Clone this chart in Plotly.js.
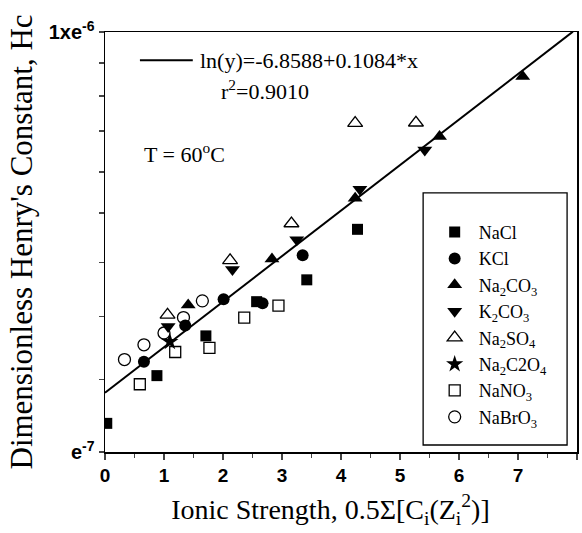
<!DOCTYPE html>
<html>
<head>
<meta charset="utf-8">
<script src="https://cdn.plot.ly/plotly-3.0.1.min.js"></script>
<style>html,body{margin:0;padding:0;background:#fff;}#chart{width:582px;height:533px;}</style>
</head>
<body>
<div id="chart"></div>
<script>
// Data (x = ionic strength, y = Henry's constant)
const naclX = [0.03, 0.88, 1.71, 2.57, 3.42, 4.28];
const naclY = [1.17e-7, 1.52e-7, 1.89e-7, 2.28e-7, 2.57e-7, 3.39e-7];
const kclX = [0.66, 1.36, 2.01, 2.67, 3.35];
const kclY = [1.64e-7, 2.00e-7, 2.31e-7, 2.26e-7, 2.94e-7];
const na2co3X = [1.41, 2.83, 4.24, 5.67, 7.08];
const na2co3Y = [2.24e-7, 2.88e-7, 4.02e-7, 5.64e-7, 7.83e-7];
const k2co3X = [1.07, 2.16, 3.25, 4.32, 5.42];
const k2co3Y = [1.99e-7, 2.72e-7, 3.20e-7, 4.22e-7, 5.24e-7];
const na2so4X = [1.06, 2.12, 3.16, 4.24, 5.27];
const na2so4Y = [2.12e-7, 2.86e-7, 3.50e-7, 6.07e-7, 6.08e-7];
const na2c2o4X = [1.10];
const na2c2o4Y = [1.83e-7];
const nano3X = [0.59, 1.19, 1.77, 2.36, 2.94];
const nano3Y = [1.45e-7, 1.73e-7, 1.77e-7, 2.09e-7, 2.23e-7];
const nabro3X = [0.33, 0.66, 1.00, 1.33, 1.65];
const nabro3Y = [1.66e-7, 1.80e-7, 1.92e-7, 2.09e-7, 2.29e-7];

// Fit line as printed on the chart: log(y) = -6.8588 + 0.1084*x
const fitIntercept = -6.8588;
const fitSlope = 0.1084;
const fitX = [0, 7.93];
const fitLabel = 'ln(y)=-6.8588+0.1084*x';
const r2Label = 'r<sup>2</sup>=0.9010';
const tempLabel = 'T = 60<sup>o</sup>C';

// Axis ticks
const xTickVals = [0, 1, 2, 3, 4, 5, 6, 7, 8];
const yTickVals = [1e-7, 1.49e-7, 2.10e-7, 2.83e-7, 3.71e-7, 4.64e-7, 5.81e-7, 7.05e-7, 8.44e-7, 1e-6];
const yTickText = ['e<sup>-7</sup>', '', '', '', '', '', '', '', '', '1xe<sup>-6</sup>'];

const serif = 'Liberation Serif, Times New Roman, serif';
const sans = 'Liberation Sans, Arial, sans-serif';

function series(name, x, y, symbol, size) {
  const open = symbol.indexOf('open') >= 0;
  return {
    type: 'scatter', mode: 'markers', name: name, x: x, y: y,
    marker: {symbol: symbol, size: size, color: '#000',
             line: {color: '#000', width: open ? 1.3 : 0}}
  };
}

const traces = [
  {
    type: 'scatter', mode: 'lines', name: fitLabel, showlegend: false,
    x: fitX, y: fitX.map(v => Math.pow(10, fitIntercept + fitSlope * v)),
    line: {color: '#000', width: 2}
  },
  series('NaCl', naclX, naclY, 'square', 11),
  series('KCl', kclX, kclY, 'circle', 12),
  series('Na<sub>2</sub>CO<sub>3</sub>', na2co3X, na2co3Y, 'triangle-up', 13),
  series('K<sub>2</sub>CO<sub>3</sub>', k2co3X, k2co3Y, 'triangle-down', 13),
  series('Na<sub>2</sub>SO<sub>4</sub>', na2so4X, na2so4Y, 'triangle-up-open', 13),
  series('Na<sub>2</sub>C2O<sub>4</sub>', na2c2o4X, na2c2o4Y, 'star', 13),
  series('NaNO<sub>3</sub>', nano3X, nano3Y, 'square-open', 11),
  series('NaBrO<sub>3</sub>', nabro3X, nabro3Y, 'circle-open', 12)
];

const layout = {
  width: 582, height: 533,
  margin: {l: 105, r: 5, t: 32, b: 81},
  paper_bgcolor: '#fff', plot_bgcolor: '#fff',
  showlegend: true,
  xaxis: {
    range: [0, 8], tickvals: xTickVals, ticks: 'outside', ticklen: 6, tickwidth: 1.5,
    minor: {dtick: 0.5, ticks: 'outside', ticklen: 4, tickwidth: 1.5},
    showgrid: false, zeroline: false, showline: true, linecolor: '#000', linewidth: 1.5, mirror: true,
    tickfont: {family: sans, size: 19, color: '#000', weight: 'bold'},
    title: {text: 'Ionic Strength, 0.5Σ[C<sub>i</sub>(Z<sub>i</sub><sup>2</sup>)]&nbsp;&nbsp;&nbsp;',
            font: {family: serif, size: 28, color: '#000'}, standoff: 14}
  },
  yaxis: {
    type: 'log', range: [-7, -6], tickvals: yTickVals, ticktext: yTickText,
    ticks: 'outside', ticklen: 5, tickwidth: 1.5,
    showgrid: false, zeroline: false, showline: true, linecolor: '#000', linewidth: 1.5, mirror: true,
    tickfont: {family: sans, size: 20, color: '#000', weight: 'bold'},
    title: {text: "Dimensionless Henry's Constant, Hc",
            font: {family: serif, size: 31, color: '#000'}, standoff: 7}
  },
  legend: {
    x: 0.690, xanchor: 'left', y: 0.567, yanchor: 'top',
    bgcolor: 'rgba(0,0,0,0)', borderwidth: 0,
    font: {family: serif, size: 18, color: '#000'},
    itemwidth: 38
  },
  shapes: [
    // legend frame
    {type: 'rect', xref: 'paper', yref: 'paper', x0: 0.674, x1: 0.979, y0: 0.0167, y1: 0.617,
     line: {color: '#000', width: 1.3}, fillcolor: '#fff', layer: 'below'},
    // sample line for the fit label
    {type: 'line', xref: 'paper', yref: 'paper', x0: 0.074, x1: 0.186, y0: 0.933, y1: 0.933,
     line: {color: '#000', width: 2}}
  ],
  annotations: [
    {xref: 'paper', yref: 'paper', x: 0.197, y: 0.933, xanchor: 'left', yanchor: 'middle',
     text: fitLabel, showarrow: false, font: {family: serif, size: 22, color: '#000'}},
    {xref: 'paper', yref: 'paper', x: 0.34, y: 0.862, xanchor: 'center', yanchor: 'middle',
     text: r2Label, showarrow: false, font: {family: serif, size: 22, color: '#000'}},
    {xref: 'paper', yref: 'paper', x: 0.078, y: 0.712, xanchor: 'left', yanchor: 'middle',
     text: tempLabel, showarrow: false, font: {family: serif, size: 22, color: '#000'}}
  ]
};

Plotly.newPlot('chart', traces, layout, {displayModeBar: false, staticPlot: true});
</script>
</body>
</html>
